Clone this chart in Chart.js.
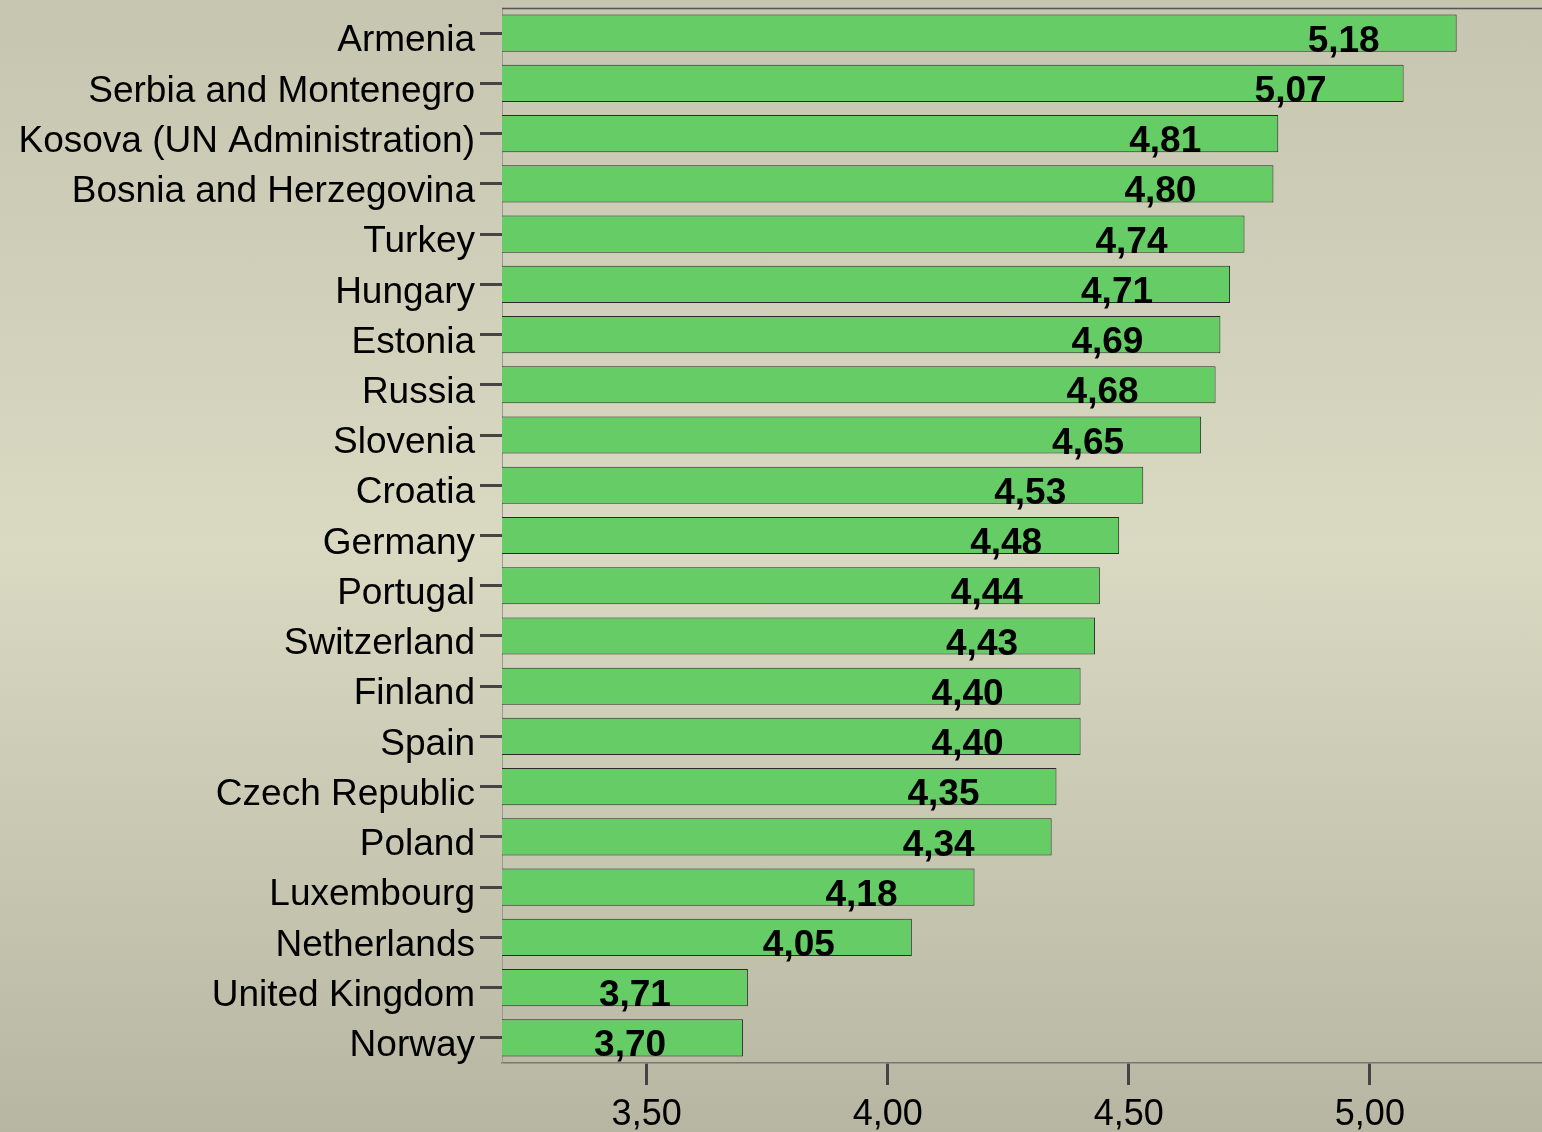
<!DOCTYPE html>
<html>
<head>
<meta charset="utf-8">
<title>Ranking</title>
<script src="https://cdn.jsdelivr.net/npm/chart.js@4.4.1/dist/chart.umd.min.js"></script>
<style>
  html, body {
    margin: 0;
    padding: 0;
    width: 1542px;
    height: 1132px;
    overflow: hidden;
    background: linear-gradient(to bottom, #c5c5b0 0%, #dadac3 48%, #b6b6a2 100%);
  }
  #wrap { position: relative; width: 1542px; height: 1132px; }
</style>
</head>
<body>
<div id="wrap"><canvas id="chart-ranking"></canvas></div>
<script>
// countries, top to bottom
const countries = [
  "Armenia", "Serbia and Montenegro", "Kosova (UN Administration)",
  "Bosnia and Herzegovina", "Turkey", "Hungary", "Estonia", "Russia",
  "Slovenia", "Croatia", "Germany", "Portugal", "Switzerland", "Finland",
  "Spain", "Czech Republic", "Poland", "Luxembourg", "Netherlands",
  "United Kingdom", "Norway"
];
const scores = [
  5.18, 5.07, 4.81, 4.80, 4.74, 4.71, 4.69, 4.68, 4.65, 4.53, 4.48,
  4.44, 4.43, 4.40, 4.40, 4.35, 4.34, 4.18, 4.05, 3.71, 3.70
];
const axisTicks = [3.5, 4.0, 4.5, 5.0];

const FONT = "'Liberation Sans', Arial, sans-serif";

/** value labels at the end of each bar + top frame line */
const barValueLabels = {
  id: "barValueLabels",
  afterDatasetsDraw(chart) {
    const { ctx, chartArea } = chart;
    const meta = chart.getDatasetMeta(0);
    ctx.save();
    // top frame line
    ctx.strokeStyle = "#555";
    ctx.lineWidth = 1.5;
    ctx.beginPath();
    ctx.moveTo(chartArea.left, chartArea.top + 0.5);
    ctx.lineTo(chartArea.right, chartArea.top + 0.5);
    ctx.stroke();

    ctx.font = "bold 37px " + FONT;
    ctx.fillStyle = "#000";
    ctx.textAlign = "right";
    ctx.textBaseline = "alphabetic";
    meta.data.forEach((bar, i) => {
      const txt = scores[i].toFixed(2).replace(".", ",");
      const bottom = bar.y + bar.height / 2;
      ctx.fillText(txt, bar.x - 77, bottom);
    });
    ctx.restore();
  },
};

const canvas = document.getElementById("chart-ranking");
canvas.width = 1542;
canvas.height = 1132;

new Chart(canvas.getContext("2d"), {
  type: "bar",
  data: {
    labels: countries,
    datasets: [
      {
        data: scores,
        backgroundColor: "#66cc66",
        borderColor: "#2a2a2a",
        borderWidth: 1,
        borderSkipped: false,
        categoryPercentage: 0.74,
        barPercentage: 1.0,
      },
    ],
  },
  options: {
    responsive: false,
    animation: false,
    indexAxis: "y",
    layout: { padding: { top: 8, right: 0, bottom: 0, left: 0 } },
    plugins: {
      legend: { display: false },
      tooltip: { enabled: false },
    },
    scales: {
      x: {
        min: 3.2,
        max: 5.357,
        afterBuildTicks(axis) {
          axis.ticks = axisTicks.map((v) => ({ value: v }));
        },
        afterFit(axis) {
          axis.height = 69;
        },
        border: { display: true, color: "#777", width: 1.5 },
        grid: {
          drawOnChartArea: false,
          drawTicks: true,
          tickLength: 22,
          tickColor: "#444",
          tickWidth: 3,
        },
        ticks: {
          color: "#000",
          padding: 8,
          font: { family: FONT, size: 36 },
          callback: (v) => Number(v).toFixed(2).replace(".", ","),
        },
      },
      y: {
        afterFit(axis) {
          axis.width = 502;
        },
        border: { display: true, color: "#999", width: 1 },
        grid: {
          offset: false,
          drawOnChartArea: false,
          drawTicks: true,
          tickLength: 22,
          tickColor: "#444",
          tickWidth: 3,
        },
        ticks: {
          color: "#000",
          padding: 5,
          labelOffset: 8,
          autoSkip: false,
          font: { family: FONT, size: 37, lineHeight: 0.05 },
        },
      },
    },
  },
  plugins: [barValueLabels],
});
</script>
</body>
</html>
